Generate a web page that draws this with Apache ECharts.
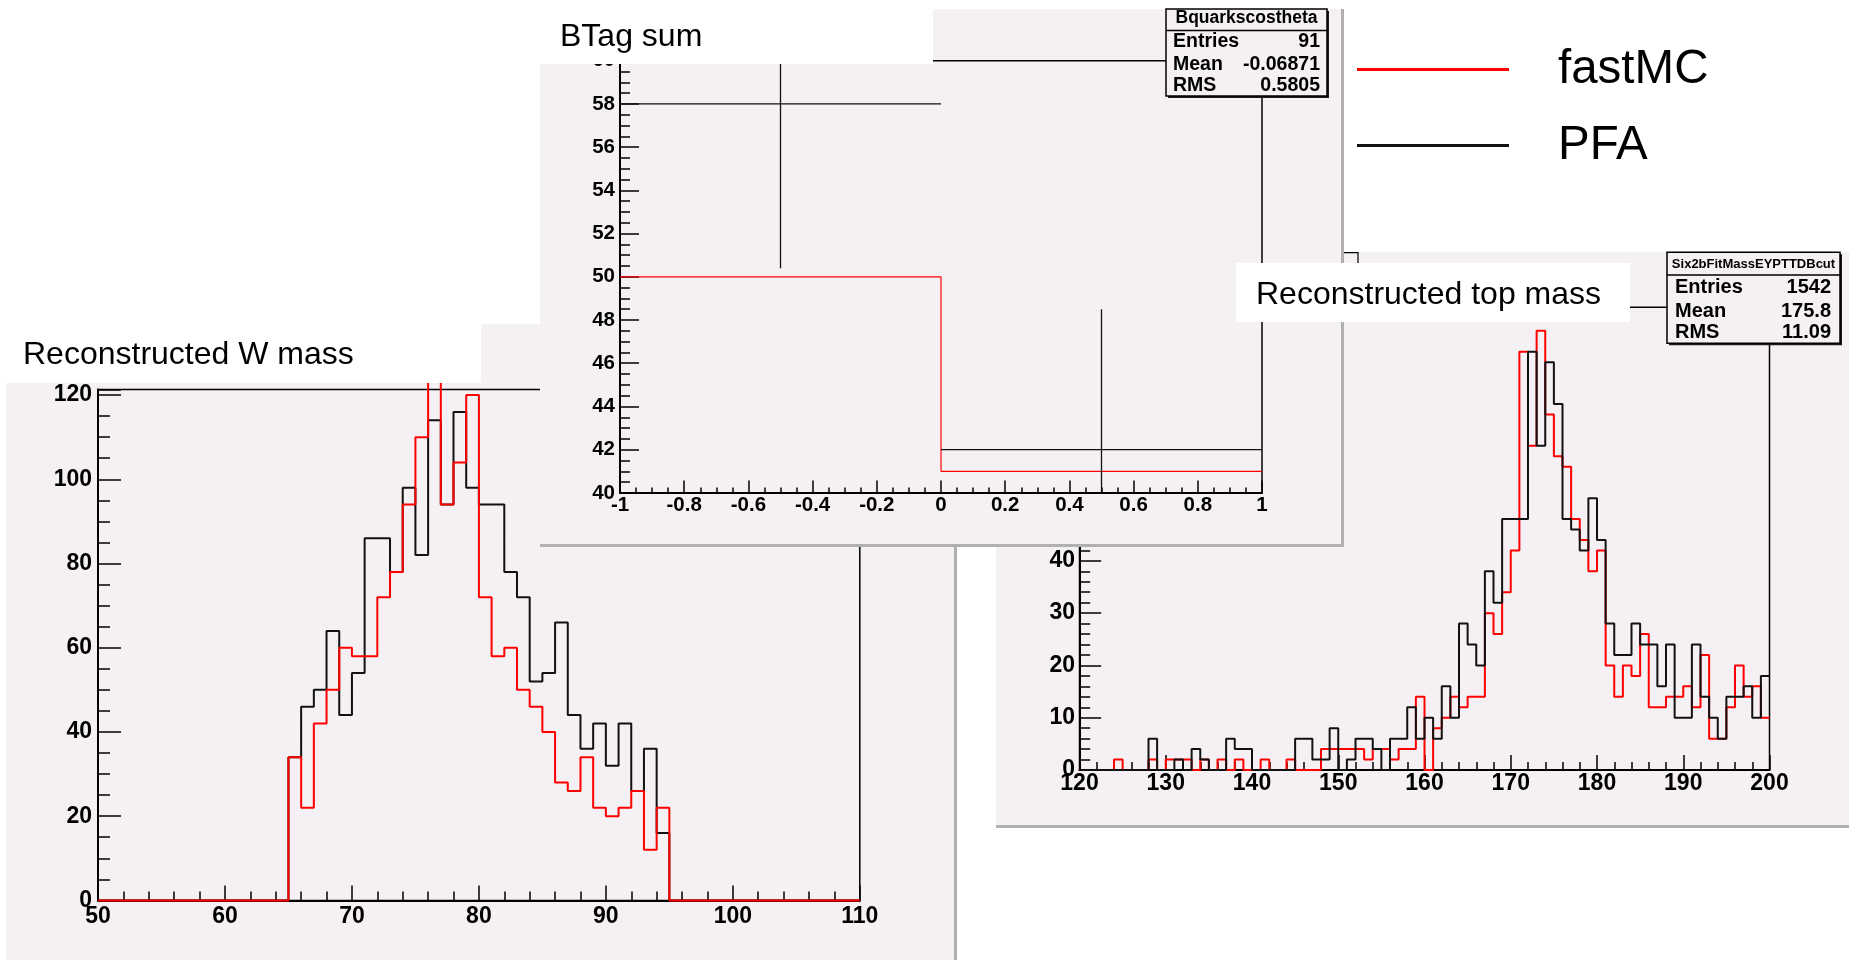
<!DOCTYPE html>
<html>
<head>
<meta charset="utf-8">
<title>fastMC vs PFA</title>
<script src="https://cdn.jsdelivr.net/npm/echarts@6/dist/echarts.min.js"></script>
<style>
  html, body { margin: 0; padding: 0; background: #ffffff; }
  #chart { width: 1849px; height: 960px; }
</style>
</head>
<body>
<div id="chart"></div>
<script>
// ---------------- data ----------------
// Reconstructed W mass: 1 GeV bins from 50 to 110
const wBinLow = 50;
const wBinWidth = 1;
const wMassPFA = [
  0, 0, 0, 0, 0, 0, 0, 0, 0, 0,
  0, 0, 0, 0, 0, 34, 46, 50, 64, 44,
  54, 86, 86, 78, 98, 82, 114, 94, 116, 98,
  94, 94, 78, 72, 52, 54, 66, 44, 36, 42,
  32, 42, 26, 36, 16, 0, 0, 0, 0, 0,
  0, 0, 0, 0, 0, 0, 0, 0, 0, 0
];
const wMassFastMC = [
  0, 0, 0, 0, 0, 0, 0, 0, 0, 0,
  0, 0, 0, 0, 0, 34, 22, 42, 50, 60,
  58, 58, 72, 78, 94, 110, 128, 94, 104, 120,
  72, 58, 60, 50, 46, 40, 28, 26, 34, 22,
  20, 22, 26, 12, 22, 0, 0, 0, 0, 0,
  0, 0, 0, 0, 0, 0, 0, 0, 0, 0
];

// Reconstructed top mass: 1 GeV bins from 120 to 200
const topBinLow = 120;
const topBinWidth = 1;
const topMassPFA = [
  0, 0, 0, 0, 0, 0, 0, 0, 6, 0,
  0, 2, 0, 4, 2, 0, 0, 6, 4, 4,
  0, 0, 0, 0, 0, 6, 6, 2, 2, 8,
  0, 2, 6, 6, 4, 0, 6, 6, 12, 6,
  10, 6, 16, 10, 28, 24, 20, 38, 32, 48,
  48, 48, 80, 62, 78, 70, 48, 46, 42, 52,
  44, 28, 22, 22, 28, 24, 24, 16, 24, 10,
  10, 24, 14, 10, 6, 14, 14, 16, 10, 18
];
const topMassFastMC = [
  0, 0, 0, 0, 2, 0, 0, 0, 2, 0,
  2, 2, 2, 0, 2, 0, 2, 0, 2, 0,
  0, 2, 0, 0, 2, 0, 0, 0, 4, 4,
  4, 4, 4, 2, 4, 4, 2, 4, 4, 14,
  0, 8, 10, 14, 12, 14, 14, 30, 26, 34,
  42, 80, 62, 84, 68, 60, 58, 48, 44, 38,
  42, 20, 14, 20, 18, 26, 12, 12, 14, 14,
  16, 12, 22, 6, 6, 12, 20, 14, 16, 10
];

// BTag sum: two bins over cos(theta) of the b quarks
const btagEdges = [-1, 0, 1];
const btagFastMC = [50, 41];
const btagPFA = [58, 42];
const btagPFAErr = [7.6, 6.5];

// ---------------- helpers ----------------
const FONT = '"Liberation Sans", Arial, Helvetica, sans-serif';
const PANEL = '#f4f0f4';
const SHADE = '#b0b0b0';
const RED = '#ff0000';
const BLACK = '#111111';

function uniformEdges(low, width, n) {
  const e = [];
  for (let i = 0; i <= n; i++) e.push(low + i * width);
  return e;
}
// outline points for a step histogram (one point per left edge + closing edge)
function histOutline(edges, values) {
  const pts = values.map((v, i) => [edges[i], v]);
  pts.push([edges[values.length], values[values.length - 1]]);
  return pts;
}
function tickLabel(min, interval, decimals) {
  return function (v) {
    const k = (v - min) / interval;
    if (Math.abs(k - Math.round(k)) > 1e-6) return '';
    return String(+(+v).toFixed(decimals));
  };
}
function rootAxis(o) {
  return {
    type: 'value', gridIndex: o.grid, min: o.min, max: o.max, interval: o.interval, z: o.z,
    axisLine: { show: true, onZero: false, lineStyle: { color: '#000', width: 2 } },
    axisTick: { show: true, inside: true, length: o.tick, lineStyle: { color: '#000', width: 1.5 } },
    minorTick: { show: true, splitNumber: o.minor, length: o.minorLen, lineStyle: { color: '#000', width: 1.5 } },
    splitLine: { show: false },
    minorSplitLine: { show: false },
    axisLabel: {
      show: true, margin: o.margin, color: '#000', fontFamily: FONT, fontWeight: 'bold', fontSize: o.font,
      formatter: tickLabel(o.min, o.interval, o.decimals || 0)
    }
  };
}
function histSeries(name, color, width, xi, edges, values, z, clip) {
  return {
    type: 'line', name: name, xAxisIndex: xi, yAxisIndex: xi,
    data: histOutline(edges, values), step: 'end',
    symbol: 'none', showSymbol: false, clip: clip,
    lineStyle: { color: color, width: width },
    itemStyle: { color: color },
    emphasis: { disabled: true }, silent: true, animation: false, z: z
  };
}
function rect(x, y, w, h, fill, z, stroke, lw) {
  return { type: 'rect', silent: true, z: z, shape: { x: x, y: y, width: w, height: h },
    style: { fill: fill, stroke: stroke || null, lineWidth: lw || 0 } };
}
function seg(x1, y1, x2, y2, color, lw, z) {
  return { type: 'line', silent: true, z: z, shape: { x1: x1, y1: y1, x2: x2, y2: y2 },
    style: { stroke: color, lineWidth: lw } };
}
function label(text, x, y, size, weight, align, z) {
  return { type: 'text', silent: true, z: z,
    style: { text: text, x: x, y: y, fontSize: size, fontWeight: weight, fontFamily: FONT, fill: '#000',
      align: align, verticalAlign: 'middle', textAlign: align, textVerticalAlign: 'middle' } };
}
function statsBox(b, z) {
  const els = [
    rect(b.x + 2, b.y + 2, b.w, b.h, '#1a1a1a', z),
    rect(b.x, b.y, b.w, b.h, PANEL, z + 1, '#000', 1.5),
    seg(b.x, b.sep, b.x + b.w, b.sep, '#000', 1.5, z + 1),
    label(b.title, b.x + b.w / 2, b.titleY, b.titleSize, 'bold', 'center', z + 2)
  ];
  b.rows.forEach(r => {
    els.push(label(r[0], b.x + b.padL, r[2], b.rowSize, 'bold', 'left', z + 2));
    els.push(label(r[1], b.x + b.w - b.padR, r[2], b.rowSize, 'bold', 'right', z + 2));
  });
  return els;
}

// ---------------- chart ----------------
const wEdges = uniformEdges(wBinLow, wBinWidth, wMassPFA.length);
const topEdges = uniformEdges(topBinLow, topBinWidth, topMassPFA.length);

const chart = echarts.init(document.getElementById('chart'), null, { renderer: 'canvas', width: 1849, height: 960 });

const gridBase = { show: true, borderColor: '#000', borderWidth: 1.5, backgroundColor: 'transparent',
  containLabel: false, outerBoundsMode: 'none' };

const option = {
  animation: false,
  backgroundColor: '#ffffff',
  grid: [
    Object.assign({ left: 98, top: 389.4, width: 761.8, height: 511, z: 2 }, gridBase),
    Object.assign({ left: 620, top: 60.7, width: 642, height: 432.2, z: 21 }, gridBase),
    Object.assign({ left: 1079.5, top: 307.3, width: 690, height: 462.7, z: 11 }, gridBase)
  ],
  xAxis: [
    rootAxis({ grid: 0, min: 50, max: 110, interval: 10, z: 2, tick: 15, minor: 5, minorLen: 9, margin: 5, font: 23 }),
    rootAxis({ grid: 1, min: -1, max: 1, interval: 0.2, z: 21, tick: 12.5, minor: 4, minorLen: 5.5, margin: 2, font: 20.5, decimals: 1 }),
    rootAxis({ grid: 2, min: 120, max: 200, interval: 10, z: 11, tick: 15, minor: 5, minorLen: 8, margin: 2, font: 23 })
  ],
  yAxis: [
    rootAxis({ grid: 0, min: 0, max: 121.35, interval: 20, z: 2, tick: 23, minor: 4, minorLen: 12, margin: 6, font: 23 }),
    rootAxis({ grid: 1, min: 40, max: 60, interval: 2, z: 21, tick: 19, minor: 4, minorLen: 10, margin: 5, font: 20.5 }),
    rootAxis({ grid: 2, min: 0, max: 88.5, interval: 10, z: 11, tick: 21.7, minor: 5, minorLen: 10.7, margin: 4.5, font: 23 })
  ],
  legend: {
    show: true, orient: 'vertical', left: 1357, top: 44.5, padding: 0,
    itemWidth: 152, itemHeight: 3, itemGap: 26, icon: 'rect', selectedMode: false, z: 40,
    data: ['fastMC', 'PFA'],
    textStyle: { fontSize: 47.5, fontFamily: FONT, color: '#000', lineHeight: 50, padding: [0, 0, 0, 44] }
  },
  series: [
    // W mass: PFA drawn first, fastMC on top
    histSeries('PFA', BLACK, 2, 0, wEdges, wMassPFA, 3, false),
    histSeries('fastMC', RED, 2, 0, wEdges, wMassFastMC, 4, false),
    // BTag sum
    histSeries('fastMC', RED, 1.2, 1, btagEdges, btagFastMC, 22, true),
    {
      type: 'custom', name: 'PFA', xAxisIndex: 1, yAxisIndex: 1, z: 23, clip: true,
      silent: true, animation: false, itemStyle: { color: BLACK },
      data: btagPFA.map((v, i) => [btagEdges[i], btagEdges[i + 1], v, btagPFAErr[i]]),
      encode: { x: [0, 1], y: [2] },
      renderItem: function (params, api) {
        const lo = api.value(0), hi = api.value(1), v = api.value(2), e = api.value(3);
        const mid = (lo + hi) / 2;
        const a = api.coord([lo, v]), b = api.coord([hi, v]);
        const c1 = api.coord([mid, v - e]), c2 = api.coord([mid, v + e]);
        const cs = params.coordSys;
        const st = { stroke: BLACK, lineWidth: 1.3 };
        return {
          type: 'group',
          clipPath: { type: 'rect', shape: { x: cs.x, y: cs.y, width: cs.width, height: cs.height } },
          children: [
            { type: 'line', shape: { x1: a[0], y1: a[1], x2: b[0], y2: b[1] }, style: st },
            { type: 'line', shape: { x1: c1[0], y1: c1[1], x2: c2[0], y2: c2[1] }, style: st }
          ]
        };
      }
    },
    // top mass: fastMC first, PFA on top
    histSeries('fastMC', RED, 2, 2, topEdges, topMassFastMC, 12, true),
    histSeries('PFA', BLACK, 2, 2, topEdges, topMassPFA, 13, true)
  ],
  graphic: {
    elements: [].concat(
      // W mass pad
      [
        rect(6, 324, 949, 640, PANEL, 1),
        seg(955.5, 324, 955.5, 960, SHADE, 3, 1),
        rect(0, 300, 481, 83, '#ffffff', 5),
        label('Reconstructed W mass', 23, 354.7, 32, 'normal', 'left', 6)
      ],
      // top mass pad
      [
        rect(996, 252, 860, 574, PANEL, 10),
        seg(996, 826.5, 1849, 826.5, SHADE, 3, 10),
        { type: 'polyline', silent: true, z: 14, shape: { points: [[1343, 252.7], [1358, 252.7], [1358, 266]] },
          style: { stroke: '#000', lineWidth: 1.2, fill: null } }
      ],
      statsBox({ x: 1667, y: 252.3, w: 173, h: 91, sep: 275, title: 'Six2bFitMassEYPTTDBcut', titleY: 264.3,
        titleSize: 13, rowSize: 20, padL: 8, padR: 9,
        rows: [['Entries', '1542', 287.3], ['Mean', '175.8', 311.5], ['RMS', '11.09', 332.5]] }, 14),
      // BTag pad
      [
        rect(540, 9, 802, 536, PANEL, 20),
        seg(1342.5, 9, 1342.5, 547, SHADE, 3, 20),
        seg(540, 545.5, 1344, 545.5, SHADE, 3, 20)
      ],
      statsBox({ x: 1166, y: 9, w: 161, h: 87, sep: 30.4, title: 'Bquarkscostheta', titleY: 18.6,
        titleSize: 17.5, rowSize: 19.5, padL: 7, padR: 7,
        rows: [['Entries', '91', 42.1], ['Mean', '-0.06871', 64.5], ['RMS', '0.5805', 85.5]] }, 24),
      [
        rect(530, 0, 403, 64, '#ffffff', 27),
        label('BTag sum', 560, 37.5, 32, 'normal', 'left', 28)
      ],
      // top mass title sits above the BTag pad
      [
        rect(1236, 263, 394, 59, '#ffffff', 30),
        label('Reconstructed top mass', 1256, 294.7, 32, 'normal', 'left', 31)
      ]
    )
  }
};

chart.setOption(option);
</script>
</body>
</html>
